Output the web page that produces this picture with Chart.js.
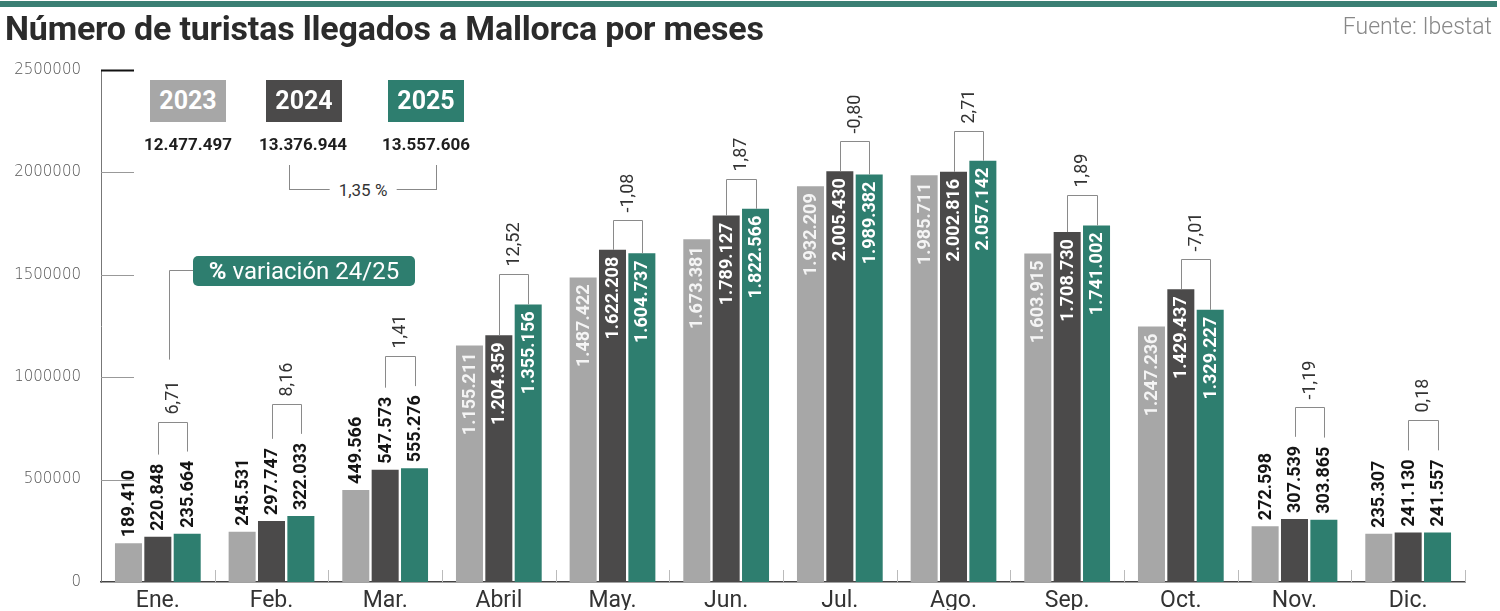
<!DOCTYPE html>
<html>
<head>
<meta charset="utf-8">
<script src="https://cdn.jsdelivr.net/npm/chart.js@4.4.1/dist/chart.umd.min.js"></script>
<style>
  html, body { margin: 0; padding: 0; background: #fff; }
  #wrap { position: relative; width: 1500px; height: 611px; overflow: hidden; font-family: Roboto, sans-serif; }
  #topbar { position: absolute; left: 0; top: 1px; width: 1497px; height: 6px; background: #3b7f74; }
  #title { position: absolute; left: 5px; top: 11px; font: 700 34px/34px Roboto; color: #2b2b2b; letter-spacing: -0.2px; white-space: nowrap; }
  #source { position: absolute; right: 8px; top: 14px; font: 300 23px/26px Roboto; color: #888; white-space: nowrap; }
  canvas { position: absolute; left: 0; top: 0; }
  .legbox { position: absolute; top: 80px; width: 76px; height: 42px; color: #fff; font: 700 25px/42px Roboto; text-align: center; }
  .total { position: absolute; top: 134px; width: 120px; margin-left: -60px; text-align: center; font: 700 17px/20px Roboto; color: #1e1e1e; }
  #totbracket { position: absolute; left: 289px; top: 165px; width: 146px; height: 24px; border: 1px solid #888; border-top: none; }
  #totbracket span { position: absolute; left: 50%; bottom: -11px; transform: translateX(-50%); background: #fff; padding: 0 9px; font: 400 17px/20px Roboto; color: #333; white-space: nowrap; }
  #varbox { position: absolute; left: 193px; top: 256px; width: 222px; height: 30px; border-radius: 5px; background: #2e7e6f; color: #fff; font: 400 24px/30px Roboto; text-align: center; white-space: nowrap; }
  #varbox b { font-weight: 700; }
</style>
</head>
<body>
<div id="wrap">
  <canvas id="chart" width="1500" height="611"></canvas>
  <div id="topbar"></div>
  <div id="title">Número de turistas llegados a Mallorca por meses</div>
  <div id="source">Fuente: Ibestat</div>
  <div class="legbox" style="left:150px;background:#a7a7a7">2023</div>
  <div class="legbox" style="left:266px;background:#4b4a4a">2024</div>
  <div class="legbox" style="left:388px;background:#2e7e6f">2025</div>
  <div class="total" id="tot0" style="left:188px"></div>
  <div class="total" id="tot1" style="left:303px"></div>
  <div class="total" id="tot2" style="left:426px"></div>
  <div id="totbracket"><span id="totpct"></span></div>
  <div id="varbox"><b>%</b> variación 24/25</div>
</div>
<script>
// Data
const months = ["Ene.", "Feb.", "Mar.", "Abril", "May.", "Jun.", "Jul.", "Ago.", "Sep.", "Oct.", "Nov.", "Dic."];
const years = ["2023", "2024", "2025"];
const tourists2023 = [189410, 245531, 449566, 1155211, 1487422, 1673381, 1932209, 1985711, 1603915, 1247236, 272598, 235307];
const tourists2024 = [220848, 297747, 547573, 1204359, 1622208, 1789127, 2005430, 2002816, 1708730, 1429437, 307539, 241130];
const tourists2025 = [235664, 322033, 555276, 1355156, 1604737, 1822566, 1989382, 2057142, 1741002, 1329227, 303865, 241557];
const variation2425 = ["6,71", "8,16", "1,41", "12,52", "-1,08", "1,87", "-0,80", "2,71", "1,89", "-7,01", "-1,19", "0,18"];
const yearTotals = ["12.477.497", "13.376.944", "13.557.606"];
const totalVariation = "1,35 %";
const yTicks = [0, 500000, 1000000, 1500000, 2000000, 2500000];

const colors = ["#a7a7a7", "#4b4a4a", "#2e7e6f"];
const insideColors = ["rgba(255,255,255,0.88)", "#ffffff", "#ffffff"];

yearTotals.forEach((t, i) => document.getElementById("tot" + i).innerText = t);
document.getElementById("totpct").innerText = totalVariation;

function fmt(v) {
  return String(v).replace(/\B(?=(\d{3})+(?!\d))/g, ".");
}

// Annotations: tick marks, separators, value labels, brackets
const annotate = {
  id: "annotate",
  afterDatasetsDraw(chart) {
    const { ctx, chartArea, scales: { x, y } } = chart;
    ctx.save();

    // y tick marks
    yTicks.forEach(v => {
      if (v === 0) return;
      const py = Math.round(y.getPixelForValue(v)) + 0.5;
      ctx.beginPath();
      ctx.strokeStyle = v === 2500000 ? "#111" : "#999";
      ctx.lineWidth = v === 2500000 ? 2 : 1;
      ctx.moveTo(chartArea.left, py);
      ctx.lineTo(chartArea.left + 33, py);
      ctx.stroke();
    });

    // category separators
    const catW = (chartArea.right - chartArea.left) / months.length;
    ctx.strokeStyle = "#bbb";
    ctx.lineWidth = 1;
    for (let i = 1; i <= months.length; i++) {
      const px = Math.round(chartArea.left + catW * i) + 0.5;
      ctx.beginPath();
      ctx.moveTo(px, chartArea.bottom - 12);
      ctx.lineTo(px, chartArea.bottom);
      ctx.stroke();
    }

    // value labels
    const starts = [[], [], []];
    ctx.font = "700 18px Roboto";
    ctx.textBaseline = "middle";
    chart.data.datasets.forEach((ds, di) => {
      const meta = chart.getDatasetMeta(di);
      meta.data.forEach((bar, i) => {
        const v = ds.data[i];
        const txt = fmt(v);
        const w = ctx.measureText(txt).width;
        const inside = v > 800000;
        ctx.save();
        if (inside) {
          ctx.translate(bar.x + 1, bar.y + 7);
          ctx.rotate(-Math.PI / 2);
          ctx.textAlign = "right";
          ctx.fillStyle = insideColors[di];
          starts[di][i] = bar.y;
        } else {
          ctx.translate(bar.x + 1, bar.y - 6);
          ctx.rotate(-Math.PI / 2);
          ctx.textAlign = "left";
          ctx.fillStyle = "#151515";
          starts[di][i] = bar.y - 6 - w - 9;
        }
        ctx.fillText(txt, 0, 0);
        ctx.restore();
      });
    });

    // brackets 2024 -> 2025
    const m1 = chart.getDatasetMeta(1), m2 = chart.getDatasetMeta(2);
    let eneTextTop = 0, eneMid = 0;
    variation2425.forEach((pct, i) => {
      const x1 = Math.round(m1.data[i].x) + 0.5;
      const x2 = Math.round(m2.data[i].x) + 0.5;
      const s1 = starts[1][i], s2 = starts[2][i];
      const h = Math.round(Math.min(s1, s2) - 30) + 0.5;
      ctx.beginPath();
      ctx.strokeStyle = "#8a8a8a";
      ctx.lineWidth = 1;
      ctx.moveTo(x1, s1);
      ctx.lineTo(x1, h);
      ctx.lineTo(x2, h);
      ctx.lineTo(x2, s2);
      ctx.stroke();
      ctx.font = "400 18px Roboto";
      const w = ctx.measureText(pct).width;
      const mid = (x1 + x2) / 2;
      ctx.save();
      ctx.translate(mid, h - 8);
      ctx.rotate(-Math.PI / 2);
      ctx.textAlign = "left";
      ctx.fillStyle = "#333";
      ctx.fillText(pct, 0, 0);
      ctx.restore();
      if (i === 0) { eneTextTop = h - 8 - w; eneMid = mid; }
    });

    // connector to the "% variación" box
    const cx = Math.round(eneMid - 4) + 0.5;
    ctx.beginPath();
    ctx.strokeStyle = "#8a8a8a";
    ctx.moveTo(cx, eneTextTop - 21);
    ctx.lineTo(cx, 270.5);
    ctx.lineTo(193, 270.5);
    ctx.stroke();

    ctx.restore();
  }
};

const ctx = document.getElementById("chart").getContext("2d");
new Chart(ctx, {
  type: "bar",
  data: {
    labels: months,
    datasets: [tourists2023, tourists2024, tourists2025].map((d, i) => ({
      label: years[i],
      data: d,
      backgroundColor: colors[i],
      borderWidth: 0,
      barPercentage: 0.92,
      categoryPercentage: 0.775
    }))
  },
  options: {
    responsive: false,
    animation: false,
    devicePixelRatio: 1,
    layout: { padding: { top: 70, right: 35, left: 0, bottom: 0 } },
    plugins: { legend: { display: false }, tooltip: { enabled: false } },
    scales: {
      x: {
        grid: { display: false, drawTicks: false },
        border: { display: true, color: "#444", width: 1.5 },
        ticks: { color: "#333", font: { family: "Roboto", size: 23, weight: "400" }, padding: 5, maxRotation: 0 },
        afterFit(scale) { scale.height = 28; }
      },
      y: {
        min: 0,
        max: 2500000,
        grid: { display: false, drawTicks: false },
        border: { display: true, color: "#777", width: 1 },
        ticks: {
          stepSize: 500000,
          padding: 20,
          color: "#555",
          font: { family: "DejaVu Sans", size: 15, weight: "200" },
          callback: v => String(v)
        },
        afterFit(scale) { scale.width = 101; }
      }
    }
  },
  plugins: [annotate]
});
</script>
</body>
</html>
